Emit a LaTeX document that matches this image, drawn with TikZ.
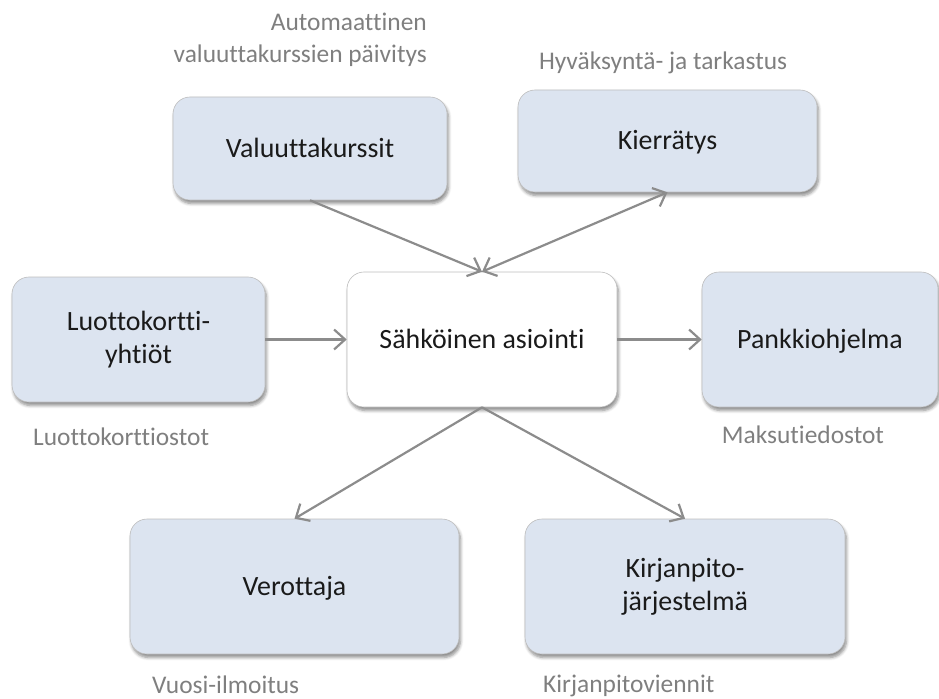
\documentclass[tikz,border=0pt]{standalone}
\usepackage{fontspec}
\setmainfont{Carlito}[RawFeature={-liga;-clig;-calt;-dlig;-rlig}]
\usetikzlibrary{arrows.meta,shadows.blur}
\definecolor{boxfill}{HTML}{DCE4F0}
\definecolor{boxline}{HTML}{BDBDBD}
\definecolor{arrowgray}{HTML}{8C8C8C}
\definecolor{labelgray}{HTML}{7F7F7F}
\definecolor{boxtext}{HTML}{1A1A1A}
\tikzset{
  boxnode/.style={draw=boxline, line width=0.6bp, fill=boxfill, rounded corners=17bp,
    align=center, text=boxtext, inner sep=0pt,
    font=\fontsize{28}{33}\selectfont,
    blur shadow={shadow xshift=1.5bp, shadow yshift=-3.5bp, shadow blur steps=6, shadow opacity=45, shadow blur radius=3bp}},
  oneline/.style={text height=20bp, text depth=2bp},
  centernode/.style={boxnode, fill=white},
  lbl/.style={text=labelgray, inner sep=0pt, font=\fontsize{25.5}{33}\selectfont},
  conn/.style={draw=arrowgray, line width=2.2bp, -{Straight Barb[length=11bp,width=20bp,line width=2.2bp]}},
  biconn/.style={conn, {Straight Barb[length=11bp,width=20bp,line width=2.2bp]}-{Straight Barb[length=11bp,width=20bp,line width=2.2bp]}},
}
\begin{document}
\begin{tikzpicture}[x=1bp,y=-1bp]
\useasboundingbox (0,0) rectangle (939,699);
\node[boxnode, oneline, minimum width=274bp, minimum height=103bp] (val) at (310,148.5) {Valuuttakurssit};
\node[boxnode, oneline, minimum width=299bp, minimum height=102bp] (kier) at (667.5,141) {Kierrätys};
\node[boxnode, minimum width=253bp, minimum height=125bp] (luot) at (138.5,339.5) {Luottokortti-\\yhtiöt};
\node[centernode, oneline, minimum width=270bp, minimum height=135bp] (sahk) at (482,339.5) {Sähköinen asiointi};
\node[boxnode, oneline, minimum width=236bp, minimum height=135bp] (pank) at (820,339.5) {Pankkiohjelma};
\node[boxnode, oneline, minimum width=329bp, minimum height=135bp] (vero) at (294.5,586.5) {Verottaja};
\node[boxnode, minimum width=320bp, minimum height=135bp] (kirj) at (685,586.5) {Kirjanpito-\\järjestelmä};

\node[lbl, align=right, anchor=base east] (auto) at (427,63) {Automaattinen\\valuuttakurssien päivitys};
\node[lbl, anchor=base] (hyv) at (663,70) {Hyväksyntä- ja tarkastus};
\node[lbl, anchor=base west] (luotl) at (33,445) {Luottokorttiostot};
\node[lbl, anchor=base] (maks) at (803,443) {Maksutiedostot};
\node[lbl, anchor=base west] (vuosi) at (152,693) {Vuosi-ilmoitus};
\node[lbl, anchor=base west] (kirjl) at (543,692) {Kirjanpitoviennit};

\draw[conn] (val.south) -- (sahk.north);
\draw[biconn] (sahk.north) -- (kier.south);
\draw[conn] (luot.east) -- (sahk.west);
\draw[conn] (sahk.east) -- (pank.west);
\draw[conn] (sahk.south) -- (vero.north);
\draw[conn] (sahk.south) -- (kirj.north);
\end{tikzpicture}
\end{document}
